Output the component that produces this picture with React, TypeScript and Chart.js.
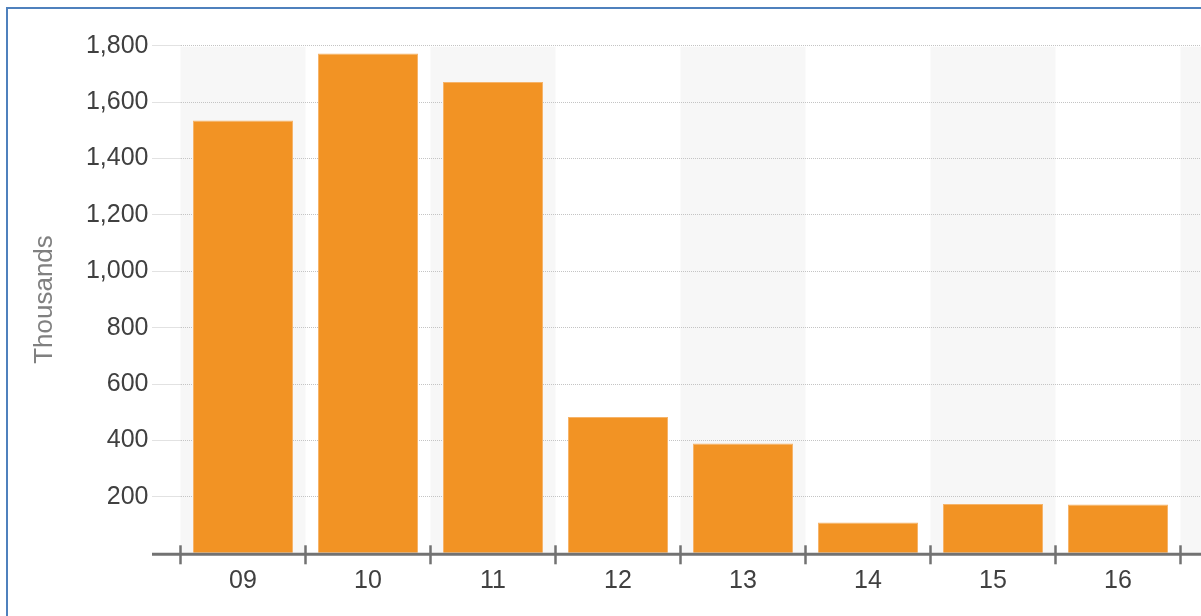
import React, { useEffect, useRef } from "react";
import { Chart, registerables } from "chart.js";

Chart.register(...registerables);

const categories: string[] = ["09", "10", "11", "12", "13", "14", "15", "16", ""];
const values: (number | null)[] = [1535, 1772, 1671, 483, 389, 109, 175, 173, null];
const yMax = 1800;
const yStep = 200;
const yTitle = "Thousands";

const CANVAS_W = 1330;
const CANVAS_H = 616;

const bandsPlugin = {
  id: "bands",
  beforeDraw(chart: any) {
    const { ctx, chartArea, scales } = chart;
    const x = scales.x;
    const catW = x.getPixelForValue(1) - x.getPixelForValue(0);
    ctx.save();
    ctx.fillStyle = "#f7f7f7";
    for (let i = 0; i < categories.length; i += 2) {
      const cx = x.getPixelForValue(i);
      ctx.fillRect(cx - catW / 2, chartArea.top + 1, catW, chartArea.bottom - chartArea.top - 1);
    }
    ctx.restore();
  },
};

const axisPlugin = {
  id: "axisLine",
  afterDatasetsDraw(chart: any) {
    const { ctx, chartArea, scales } = chart;
    const x = scales.x;
    const catW = x.getPixelForValue(1) - x.getPixelForValue(0);
    const y = chartArea.bottom + 1;
    ctx.save();
    ctx.strokeStyle = "#727272";
    ctx.lineWidth = 3;
    ctx.beginPath();
    ctx.moveTo(152, y);
    ctx.lineTo(chart.width, y);
    ctx.stroke();
    ctx.lineWidth = 2.5;
    for (let i = 0; i <= categories.length; i++) {
      const tx = chartArea.left + i * catW;
      ctx.beginPath();
      ctx.moveTo(tx, y - 9);
      ctx.lineTo(tx, y + 10);
      ctx.stroke();
    }
    ctx.restore();
  },
};

export default function App() {
  const ref = useRef<HTMLCanvasElement | null>(null);

  useEffect(() => {
    if (!ref.current) return;
    const chart = new Chart(ref.current, {
      type: "bar",
      data: {
        labels: categories,
        datasets: [
          {
            data: values,
            backgroundColor: "#f29324",
            borderColor: "#f6b46a",
            borderWidth: 1,
            barPercentage: 0.8,
            categoryPercentage: 1,
          },
        ],
      },
      options: {
        responsive: false,
        animation: false,
        devicePixelRatio: 1,
        layout: { padding: { top: 45.7, right: CANVAS_W - 1305.5, bottom: 0, left: 0 } },
        plugins: {
          legend: { display: false },
          tooltip: { enabled: false },
          title: { display: false },
        },
        scales: {
          x: {
            type: "category",
            offset: true,
            grid: { display: false, drawTicks: false },
            border: { display: false },
            ticks: {
              autoSkip: false,
              maxRotation: 0,
              padding: 13,
              color: "#404040",
              font: { family: "'Liberation Sans', Arial, sans-serif", size: 25 },
            },
            afterFit: (scale: any) => {
              scale.height = CANVAS_H - 553.3;
            },
          },
          y: {
            min: 0,
            max: yMax,
            border: { display: false, dash: [1, 1] },
            grid: {
              color: (c: any) => (c.tick && c.tick.value === 0 ? "rgba(0,0,0,0)" : "#c4c4c4"),
              tickColor: (c: any) => (c.tick && c.tick.value === 0 ? "rgba(0,0,0,0)" : "#c4c4c4"),
              tickLength: 28,
              tickBorderDash: [1, 1],
              lineWidth: 1,
            },
            ticks: {
              stepSize: yStep,
              padding: 4,
              color: "#404040",
              font: { family: "'Liberation Sans', Arial, sans-serif", size: 25 },
              callback: (v: any) => (Number(v) === 0 ? "" : Number(v).toLocaleString("en-US")),
            },
            title: {
              display: true,
              text: yTitle,
              color: "#808080",
              padding: { top: 28.8, bottom: 0 },
              font: { family: "'Liberation Sans', Arial, sans-serif", size: 26, weight: "normal" },
            },
            afterFit: (scale: any) => {
              scale.width = 180.5;
            },
          },
        },
      },
      plugins: [bandsPlugin, axisPlugin],
    } as any);
    return () => chart.destroy();
  }, []);

  return (
    <div
      style={{
        position: "fixed",
        left: 0,
        top: 0,
        width: 1201,
        height: 616,
        overflow: "hidden",
        background: "#ffffff",
      }}
    >
      <div
        style={{
          position: "absolute",
          left: 6,
          top: 7,
          width: 1400,
          height: 800,
          border: "2px solid #4f81bd",
          boxSizing: "border-box",
        }}
      />
      <canvas
        ref={ref}
        width={CANVAS_W}
        height={CANVAS_H}
        style={{ position: "absolute", left: 0, top: 0, width: CANVAS_W, height: CANVAS_H }}
      />
    </div>
  );
}
